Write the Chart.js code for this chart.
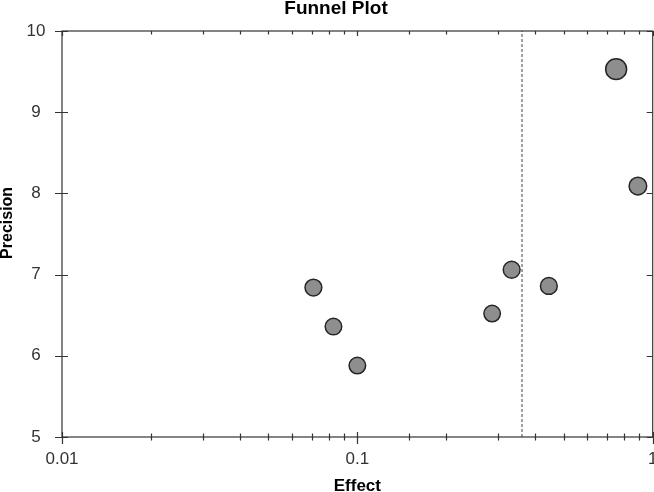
<!DOCTYPE html>
<html>
<head>
<meta charset="utf-8">
<title>Funnel Plot</title>
<script src="https://cdn.jsdelivr.net/npm/chart.js@4.4.1/dist/chart.umd.min.js"></script>
<style>
  html, body { margin: 0; padding: 0; background: #fff; }
  #wrap { width: 654px; height: 492px; }
</style>
</head>
<body>
<div id="wrap"><canvas id="funnel"></canvas></div>
<script>
// study data
const effects = [0.071, 0.083, 0.1, 0.286, 0.333, 0.445, 0.752, 0.891];
const precisions = [6.84, 6.36, 5.88, 6.52, 7.06, 6.86, 9.53, 8.09];
const weights = [1, 0.97, 0.97, 0.96, 1, 1, 1.55, 1.1];
const pooledEffect = 0.361;
const effectTicks = [0.01, 0.1, 1];
const precisionRange = [5, 10];

const FONT = "'Liberation Sans', Arial, sans-serif";

// box round the plot with ticks on all four sides
const framePlugin = {
  id: "frame",
  afterDraw(chart) {
    const { ctx, chartArea: a, scales } = chart;
    const x = scales.x;
    const y = scales.y;
    ctx.save();
    ctx.strokeStyle = "#333";
    ctx.lineWidth = 1.2;
    ctx.strokeRect(a.left, a.top, a.right - a.left, a.bottom - a.top);
    ctx.beginPath();
    x.ticks.forEach(function (t) {
      const px = Math.round(x.getPixelForValue(t.value)) + 0.5;
      const inn = t.major ? 5 : 3.5;
      const out = t.major ? 7 : 3.5;
      ctx.moveTo(px, a.bottom - inn);
      ctx.lineTo(px, a.bottom + out);
      ctx.moveTo(px, a.top);
      ctx.lineTo(px, a.top + inn);
    });
    y.ticks.forEach(function (t) {
      const py = Math.round(y.getPixelForValue(t.value)) + 0.5;
      ctx.moveTo(a.left - 7, py);
      ctx.lineTo(a.left + 6, py);
      ctx.moveTo(a.right - 6, py);
      ctx.lineTo(a.right, py);
    });
    ctx.stroke();
    ctx.restore();
  }
};

const points = effects.map(function (e, i) {
  return { x: e, y: precisions[i] };
});

new Chart(document.getElementById("funnel"), {
  type: "scatter",
  data: {
    datasets: [
      {
        type: "line",
        data: [
          { x: pooledEffect, y: precisionRange[0] },
          { x: pooledEffect, y: precisionRange[1] }
        ],
        borderColor: "#444",
        borderWidth: 1,
        borderDash: [3, 2],
        pointRadius: 0,
        fill: false
      },
      {
        data: points,
        backgroundColor: "#8e8e8e",
        borderColor: "#262626",
        borderWidth: 1.5,
        pointRadius: weights.map(function (w) { return 8.4 * Math.sqrt(w); })
      }
    ]
  },
  options: {
    responsive: true,
    maintainAspectRatio: false,
    animation: false,
    layout: { autoPadding: false, padding: { left: 18, right: 0, top: 0, bottom: 0 } },
    plugins: {
      legend: { display: false },
      tooltip: { enabled: false },
      title: {
        display: true,
        text: "Funnel Plot",
        color: "#000",
        font: { family: FONT, size: 19, weight: "bold" },
        padding: { top: -2.4, bottom: 10.6 }
      }
    },
    scales: {
      x: {
        type: "logarithmic",
        min: 0.01,
        max: 1,
        border: { display: false },
        grid: { display: false, drawTicks: true, tickLength: 6 },
        ticks: {
          autoSkip: false,
          maxRotation: 0,
          padding: 6.5,
          color: "#333",
          font: { family: FONT, size: 17 },
          callback: function (value) {
            return effectTicks.includes(value) ? String(value) : "";
          }
        },
        title: {
          display: true,
          text: "Effect",
          color: "#000",
          font: { family: FONT, size: 17, weight: "bold" },
          padding: { top: 0, bottom: -4.9 }
        },
        afterFit: function (scale) {
          scale.height = 55;
          scale.paddingLeft = 0;
          scale.paddingRight = 1.3;
        }
      },
      y: {
        min: precisionRange[0],
        max: precisionRange[1],
        border: { display: false },
        grid: { display: false, drawTicks: true, tickLength: 7 },
        ticks: {
          stepSize: 1,
          crossAlign: "center",
          padding: 9.5,
          color: "#333",
          font: { family: FONT, size: 17 }
        },
        title: {
          display: true,
          // leading spaces lift the label a little above the axis middle, as in the original
          text: "     Precision",
          color: "#000",
          font: { family: FONT, size: 16, weight: "bold" },
          padding: { top: -20, bottom: 0 }
        },
        afterFit: function (scale) {
          scale.width = 44;
        }
      }
    }
  },
  plugins: [framePlugin]
});
</script>
</body>
</html>
